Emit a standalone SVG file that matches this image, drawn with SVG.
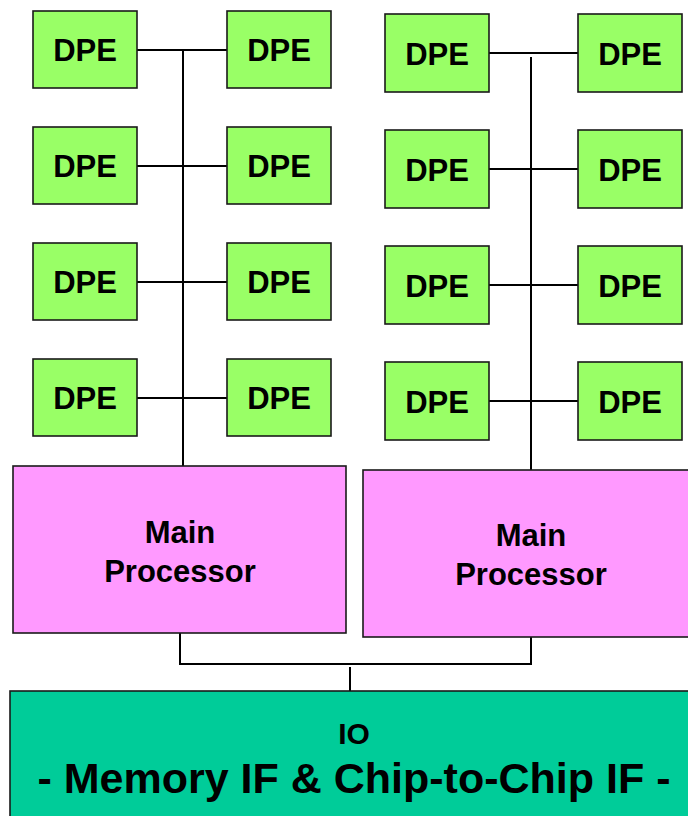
<svg xmlns="http://www.w3.org/2000/svg" width="688" height="816" viewBox="0 0 688 816">
<style>
.dpe{fill:#99FF66;stroke:#1a1a1a;stroke-width:1.6}
.mp{fill:#FF99FF;stroke:#1a1a1a;stroke-width:1.6}
.io{fill:#00CC99;stroke:#1a1a1a;stroke-width:1.6}
.t{font-family:"Liberation Sans",Arial,sans-serif;font-weight:bold;fill:#000;text-anchor:middle}
.dt{font-size:31px}
.mt{font-size:31px}
.w{fill:none;stroke:#000;stroke-width:2}
</style>
<rect width="688" height="816" fill="#fff"/>
<g id="connectors">
<line class="w" x1="137" y1="50" x2="227" y2="50"/>
<line class="w" x1="137" y1="166" x2="227" y2="166"/>
<line class="w" x1="137" y1="282" x2="227" y2="282"/>
<line class="w" x1="137" y1="398" x2="227" y2="398"/>
<line class="w" x1="183" y1="50" x2="183" y2="466"/>
<line class="w" x1="489" y1="53" x2="578" y2="53"/>
<line class="w" x1="489" y1="169" x2="578" y2="169"/>
<line class="w" x1="489" y1="285" x2="578" y2="285"/>
<line class="w" x1="489" y1="401" x2="578" y2="401"/>
<line class="w" x1="531" y1="57" x2="531" y2="470"/>
<polyline class="w" points="180,633 180,664 531,664 531,637"/>
<line class="w" x1="350" y1="667" x2="350" y2="691"/>
</g>
<g id="dpe-l1a"><rect class="dpe" x="33" y="11" width="104" height="77"/><text class="t dt" x="85" y="61">DPE</text></g>
<g id="dpe-l1b"><rect class="dpe" x="227" y="11" width="104" height="77"/><text class="t dt" x="279" y="61">DPE</text></g>
<g id="dpe-l2a"><rect class="dpe" x="33" y="127" width="104" height="77"/><text class="t dt" x="85" y="177">DPE</text></g>
<g id="dpe-l2b"><rect class="dpe" x="227" y="127" width="104" height="77"/><text class="t dt" x="279" y="177">DPE</text></g>
<g id="dpe-l3a"><rect class="dpe" x="33" y="243" width="104" height="77"/><text class="t dt" x="85" y="293">DPE</text></g>
<g id="dpe-l3b"><rect class="dpe" x="227" y="243" width="104" height="77"/><text class="t dt" x="279" y="293">DPE</text></g>
<g id="dpe-l4a"><rect class="dpe" x="33" y="359" width="104" height="77"/><text class="t dt" x="85" y="409">DPE</text></g>
<g id="dpe-l4b"><rect class="dpe" x="227" y="359" width="104" height="77"/><text class="t dt" x="279" y="409">DPE</text></g>
<g id="dpe-r1a"><rect class="dpe" x="385" y="14" width="104" height="78"/><text class="t dt" x="437" y="65">DPE</text></g>
<g id="dpe-r1b"><rect class="dpe" x="578" y="14" width="104" height="78"/><text class="t dt" x="630" y="65">DPE</text></g>
<g id="dpe-r2a"><rect class="dpe" x="385" y="130" width="104" height="78"/><text class="t dt" x="437" y="181">DPE</text></g>
<g id="dpe-r2b"><rect class="dpe" x="578" y="130" width="104" height="78"/><text class="t dt" x="630" y="181">DPE</text></g>
<g id="dpe-r3a"><rect class="dpe" x="385" y="246" width="104" height="78"/><text class="t dt" x="437" y="297">DPE</text></g>
<g id="dpe-r3b"><rect class="dpe" x="578" y="246" width="104" height="78"/><text class="t dt" x="630" y="297">DPE</text></g>
<g id="dpe-r4a"><rect class="dpe" x="385" y="362" width="104" height="78"/><text class="t dt" x="437" y="413">DPE</text></g>
<g id="dpe-r4b"><rect class="dpe" x="578" y="362" width="104" height="78"/><text class="t dt" x="630" y="413">DPE</text></g>
<g id="mp-left"><rect class="mp" x="13" y="466" width="333" height="167"/><text class="t mt" x="180" y="543">Main</text><text class="t mt" x="180" y="582">Processor</text></g>
<g id="mp-right"><rect class="mp" x="363" y="470" width="340" height="167"/><text class="t mt" x="531" y="546">Main</text><text class="t mt" x="531" y="585">Processor</text></g>
<g id="io"><rect class="io" x="10" y="691" width="700" height="140"/><text class="t" style="font-size:30px" x="354" y="744">IO</text><text class="t" style="font-size:43px" x="354" y="793">- Memory IF &amp; Chip-to-Chip IF -</text></g>
</svg>
